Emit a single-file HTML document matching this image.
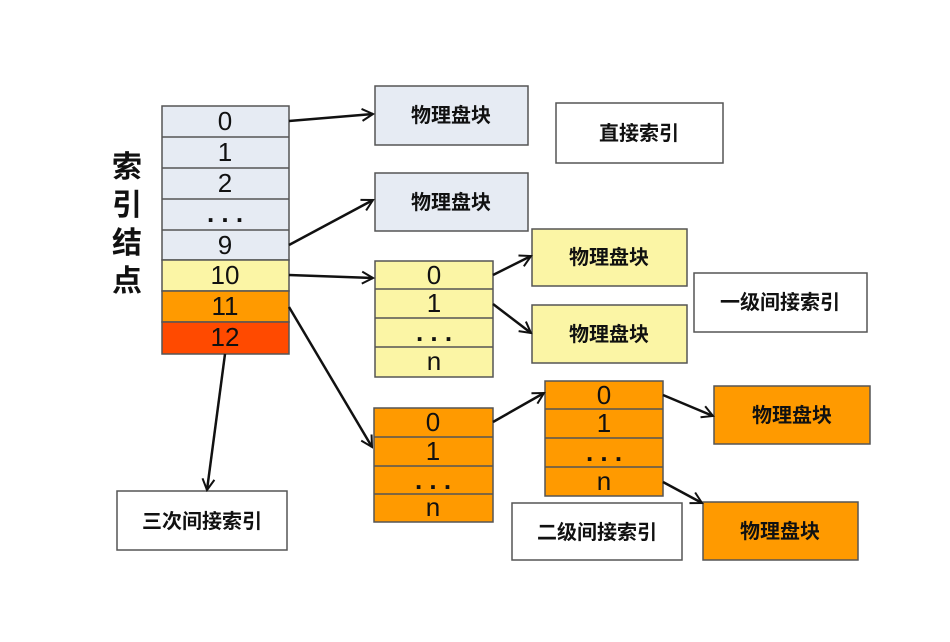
<!DOCTYPE html>
<html><head><meta charset="utf-8"><style>
body{margin:0;background:#fff;}
svg text{font-family:"Liberation Sans","Noto Sans CJK SC",sans-serif;fill:#111;}
</style></head><body>
<svg width="950" height="637" viewBox="0 0 950 637" xmlns="http://www.w3.org/2000/svg">
<defs><marker id="a" markerWidth="14" markerHeight="14" refX="12" refY="7" orient="auto" markerUnits="userSpaceOnUse"><path d="M1,1 L12,7 L1,13" fill="none" stroke="#111" stroke-width="2"/></marker></defs>
<g stroke="#555" stroke-width="1.5">
<rect x="162" y="106" width="127" height="154" fill="#e6ebf3"/>
<line x1="162" y1="137" x2="289" y2="137"/><line x1="162" y1="168" x2="289" y2="168"/><line x1="162" y1="199" x2="289" y2="199"/><line x1="162" y1="230" x2="289" y2="230"/>
<rect x="162" y="260" width="127" height="31" fill="#fbf5a5"/>
<rect x="162" y="291" width="127" height="31" fill="#ff9a00"/>
<rect x="162" y="322" width="127" height="32" fill="#ff4a00"/>
<rect x="375" y="86" width="153" height="59" fill="#e6ebf3"/>
<rect x="375" y="173" width="153" height="58" fill="#e6ebf3"/>
<rect x="556" y="103" width="167" height="60" fill="#fff"/>
<rect x="375" y="261" width="118" height="116" fill="#fbf5a5"/>
<line x1="375" y1="289" x2="493" y2="289"/><line x1="375" y1="318" x2="493" y2="318"/><line x1="375" y1="347" x2="493" y2="347"/>
<rect x="532" y="229" width="155" height="57" fill="#fbf5a5"/>
<rect x="532" y="305" width="155" height="58" fill="#fbf5a5"/>
<rect x="694" y="273" width="173" height="59" fill="#fff"/>
<rect x="374" y="408" width="119" height="114" fill="#ff9a00"/>
<line x1="374" y1="437" x2="493" y2="437"/><line x1="374" y1="466" x2="493" y2="466"/><line x1="374" y1="494" x2="493" y2="494"/>
<rect x="545" y="381" width="118" height="115" fill="#ff9a00"/>
<line x1="545" y1="409" x2="663" y2="409"/><line x1="545" y1="438" x2="663" y2="438"/><line x1="545" y1="467" x2="663" y2="467"/>
<rect x="714" y="386" width="156" height="58" fill="#ff9a00"/>
<rect x="703" y="502" width="155" height="58" fill="#ff9a00"/>
<rect x="512" y="503" width="170" height="57" fill="#fff"/>
<rect x="117" y="491" width="170" height="59" fill="#fff"/>
</g>
<g stroke="#111" stroke-width="2.5" marker-end="url(#a)">
<line x1="289" y1="121" x2="373" y2="114"/>
<line x1="289" y1="245" x2="373" y2="200"/>
<line x1="289" y1="275" x2="373" y2="278"/>
<line x1="289" y1="307" x2="372" y2="447"/>
<line x1="225" y1="354" x2="207" y2="490"/>
<line x1="493" y1="275" x2="531" y2="256"/>
<line x1="493" y1="304" x2="531" y2="333"/>
<line x1="493" y1="422" x2="544" y2="393"/>
<line x1="663" y1="395" x2="713" y2="416"/>
<line x1="663" y1="482" x2="702" y2="503"/>
</g>
<g font-size="26" text-anchor="middle">
<text x="225" y="130">0</text><text x="225" y="161">1</text><text x="225" y="192">2</text><text x="225" y="222" font-weight="bold">. . .</text><text x="225" y="254">9</text>
<text x="225" y="284">10</text><text x="225" y="315">11</text><text x="225" y="346">12</text>
<text x="434" y="284">0</text><text x="434" y="312">1</text><text x="434" y="341" font-weight="bold">. . .</text><text x="434" y="370">n</text>
<text x="433" y="431">0</text><text x="433" y="460">1</text><text x="433" y="489" font-weight="bold">. . .</text><text x="433" y="516">n</text>
<text x="604" y="404">0</text><text x="604" y="432">1</text><text x="604" y="461" font-weight="bold">. . .</text><text x="604" y="490">n</text>
</g>
<g font-size="20" text-anchor="middle" font-weight="bold">
<text x="451" y="122">物理盘块</text><text x="451" y="209">物理盘块</text>
<text x="639" y="140">直接索引</text>
<text x="609" y="264">物理盘块</text><text x="609" y="341">物理盘块</text>
<text x="780" y="309">一级间接索引</text>
<text x="792" y="422">物理盘块</text><text x="780" y="538">物理盘块</text>
<text x="597" y="539">二级间接索引</text>
<text x="202" y="528">三次间接索引</text>
</g>
<g font-size="30" text-anchor="middle" font-weight="bold">
<text x="127" y="177">索</text><text x="127" y="215">引</text><text x="127" y="253">结</text><text x="127" y="291">点</text>
</g>
</svg>
</body></html>
